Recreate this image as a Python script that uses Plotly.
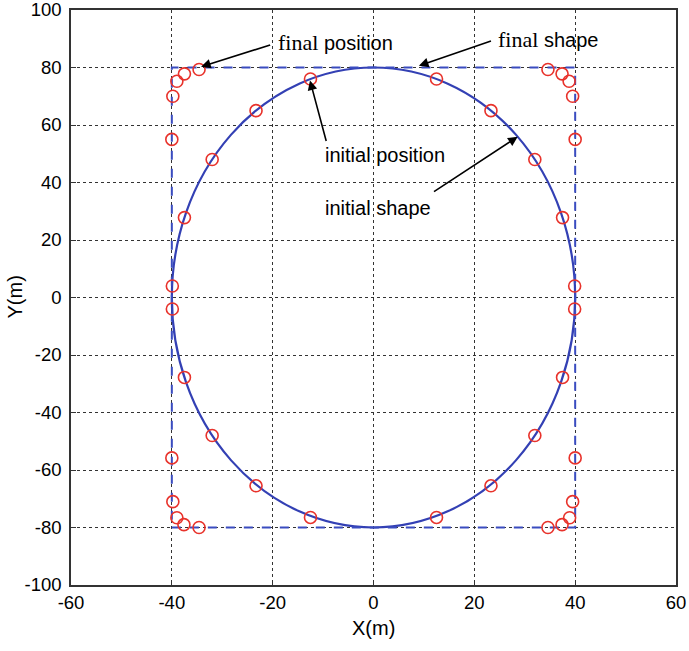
import plotly.graph_objects as go

# Initial shape (ellipse) extents and final shape (rectangle) extents
ellipse_x = [-40, 40]
ellipse_y = [-80, 80]
rect_x = [-40, 40]
rect_y = [-80, 80]

# Initial positions (on ellipse)
init_x = [12.5, 23.3, 32.0, 37.5, 39.9, 39.9, 37.5, 32.0, 23.3, 12.5,
          -12.5, -23.3, -32.0, -37.5, -39.9, -39.9, -37.5, -32.0, -23.3, -12.5]
init_y = [76.0, 65.0, 48.0, 27.8, 4.0, -4.0, -27.8, -48.0, -65.5, -76.5,
          76.0, 65.0, 48.0, 27.8, 4.0, -4.0, -27.8, -48.0, -65.5, -76.5]

# Final positions (on rectangle corners)
final_x = [-34.6, -37.5, -39.0, -39.8, -40.0,
           34.6, 37.4, 38.8, 39.5, 40.0,
           -40.0, -39.8, -39.0, -37.6, -34.6,
           40.0, 39.5, 38.9, 37.4, 34.6]
final_y = [79.3, 77.8, 75.2, 70.0, 55.0,
           79.3, 77.8, 75.2, 70.0, 55.0,
           -55.8, -71.0, -76.6, -79.0, -80.0,
           -55.8, -71.0, -76.6, -79.0, -80.0]

x_ticks = [-60, -40, -20, 0, 20, 40, 60]
x_tick_labels = ["-60", "-40", "-20", "0", "20", "40", "60"]
y_ticks = [-100, -80, -60, -40, -20, 0, 20, 40, 60, 80, 100]
y_tick_labels = ["-100", "-80", "-60", "-40", "-20", "0", "20", "40", "60", "80", "100"]

BLUE = "#3340b4"
RED = "#e8322b"

fig = go.Figure()

fig.add_trace(go.Scatter(
    x=init_x + final_x, y=init_y + final_y, mode="markers",
    marker=dict(symbol="circle-open", size=12, color=RED, line=dict(width=1.6, color=RED)),
    showlegend=False, hoverinfo="skip"))

fig.add_shape(type="circle", xref="x", yref="y",
              x0=ellipse_x[0], x1=ellipse_x[1], y0=ellipse_y[0], y1=ellipse_y[1],
              line=dict(color=BLUE, width=2.2), layer="between")
fig.add_shape(type="rect", xref="x", yref="y",
              x0=rect_x[0], x1=rect_x[1], y0=rect_y[0], y1=rect_y[1],
              line=dict(color="#3a4cc0", width=2, dash="dash"), layer="between")

SERIF = "Liberation Serif"
SANS = "Liberation Sans"

texts = [
    ("<span style='font-family:%s;font-size:22px'>final</span> position" % SERIF, -7.5, 88.7),
    ("<span style='font-family:%s;font-size:22px'>final</span> shape" % SERIF, 34.6, 89.6),
    ("initial position", 2.3, 49.7),
    ("initial shape", 0.8, 31.3),
]
for t, x, y in texts:
    fig.add_annotation(x=x, y=y, xref="x", yref="y", text=t, showarrow=False,
                       font=dict(family=SANS, size=20, color="black"))

arrows = [
    (-20.2, 88.0, -34.2, 80.3),
    (23.6, 89.4, 9.0, 80.6),
    (-9.3, 53.9, -12.6, 75.5),
    (11.7, 36.5, 28.6, 55.9),
]
for ax, ay, x, y in arrows:
    fig.add_annotation(x=x, y=y, ax=ax, ay=ay, xref="x", yref="y", axref="x", ayref="y",
                       text="", showarrow=True, arrowhead=2, arrowsize=1.2,
                       arrowwidth=1.6, arrowcolor="black", standoff=0, startstandoff=0)

# Axis titles
fig.add_annotation(x=0.5, y=-0.0748, xref="paper", yref="paper", text="X(m)", showarrow=False,
                   font=dict(family=SANS, size=20, color="black"), xanchor="center", yanchor="middle")
fig.add_annotation(x=-0.0942, y=0.5, xref="paper", yref="paper", text="Y(m)", showarrow=False,
                   textangle=-90, font=dict(family=SANS, size=20, color="black"),
                   xanchor="center", yanchor="middle")

axis_common = dict(showgrid=True, gridcolor="#333333", griddash="dot", gridwidth=1,
                   showline=True, linecolor="#333333", linewidth=1.5, mirror=True,
                   ticks="inside", ticklen=5, tickcolor="#333333", automargin=False,
                   ticklabeloverflow="allow",
                   zeroline=False, tickfont=dict(family=SANS, size=18.5, color="black"))

fig.update_xaxes(range=[-60, 60], tickvals=x_ticks, ticktext=x_tick_labels, **axis_common)
fig.update_yaxes(range=[-100, 100], tickvals=y_ticks, ticktext=y_tick_labels,
                 ticklabelstandoff=4, **axis_common)

fig.update_layout(width=689, height=651, margin=dict(l=71, r=13, t=10, b=66),
                  plot_bgcolor="white", paper_bgcolor="white")

fig.write_html("out.html")
